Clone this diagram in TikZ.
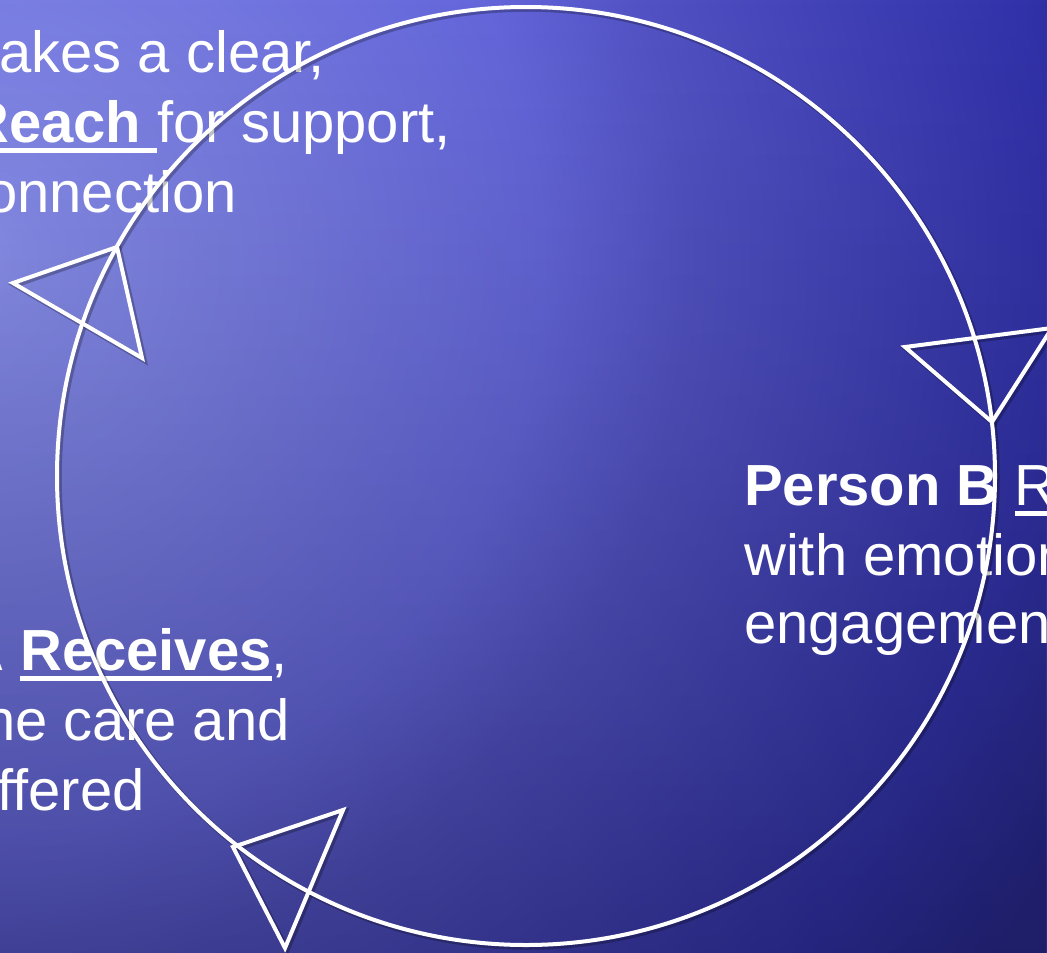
\documentclass[tikz,border=0pt]{standalone}
\usepackage{fontspec}
\setmainfont{Liberation Sans}
\usetikzlibrary{fadings}
\definecolor{bgA}{HTML}{8E94EE}
\definecolor{bgB}{HTML}{868CEA}
\definecolor{bgC}{HTML}{767AE0}
\definecolor{bgD}{HTML}{6466DA}
\definecolor{bgE}{HTML}{5252C4}
\definecolor{bgF}{HTML}{3232AA}
\definecolor{bgG}{HTML}{28288C}
\pgfdeclareradialshading{bgshade}{\pgfpoint{0bp}{0bp}}{color(0bp)=(bgA); color(1.15bp)=(bgB); color(6bp)=(bgC); color(11bp)=(bgD); color(13.8bp)=(bgE); color(20.75bp)=(bgF); color(23.85bp)=(bgG); color(50bp)=(bgG)}
\tikzfading[name=darkbottom, top color=transparent!100, bottom color=transparent!0]
\newcommand\ulbar[1]{\setbox0\hbox{#1}\rlap{\rule[-10.5pt]{\wd0}{5pt}}\box0}
\newcommand\cycleshapes[1]{%
  \draw[#1] (c) circle (469);
  \draw[#1] (p1) -- (p2) -- (p3) -- cycle;
  \draw[#1] (q1) -- (q2) -- (q3) -- cycle;
  \draw[#1] (r1) -- (r2) -- (r3) -- cycle;
}
\begin{document}
\begin{tikzpicture}[x=1pt,y=-1pt,
  txt/.style={anchor=base west, inner sep=0pt, text=white, font=\fontsize{58}{70}\selectfont},
  ringline/.style={draw=white, line width=4pt, line join=miter},
  shadowline/.style={draw=black, draw opacity=0.25, line width=5.5pt, line join=miter, transform canvas={shift={(2pt,-2pt)}}}]
\useasboundingbox (0,0) rectangle (1047,953);
\begin{scope}
\clip (0,0) rectangle (1047,953);
\shade[shading=bgshade] (-30,260) circle (1300);
\fill[black, fill opacity=0.25, path fading=darkbottom] (0,0) rectangle (1047,953);
% top-left text
\node[txt] (t1) at (-1,72) {akes a clear,};
\node[txt] (t2) at (-33,142) {\ulbar{\bfseries Reach }for support,};
\node[txt] (t3) at (-44,212) {connection};
% right text
\node[txt] (b1) at (744,505) {\bfseries Person B \ulbar{\mdseries R}};
\node[txt] (b2) at (744,575) {with emotion};
\node[txt] (b3) at (744,643) {engagement};
% bottom-left text
\node[txt] (a1) at (-38,670) {\bfseries A \ulbar{Receives}\mdseries,};
\node[txt] (a2) at (-33,740) {the care and};
\node[txt] (a3) at (-35,810) {offered};
% geometry
\coordinate (c) at (526,476);
\coordinate (p1) at (117,247);
\coordinate (p2) at (13,283);
\coordinate (p3) at (142,358);
\coordinate (q1) at (992,422);
\coordinate (q2) at (905,347);
\coordinate (q3) at (1052,328);
\coordinate (r1) at (233,847);
\coordinate (r2) at (343,810);
\coordinate (r3) at (285,948);
\cycleshapes{shadowline}
\cycleshapes{ringline}
\end{scope}
\end{tikzpicture}
\end{document}
